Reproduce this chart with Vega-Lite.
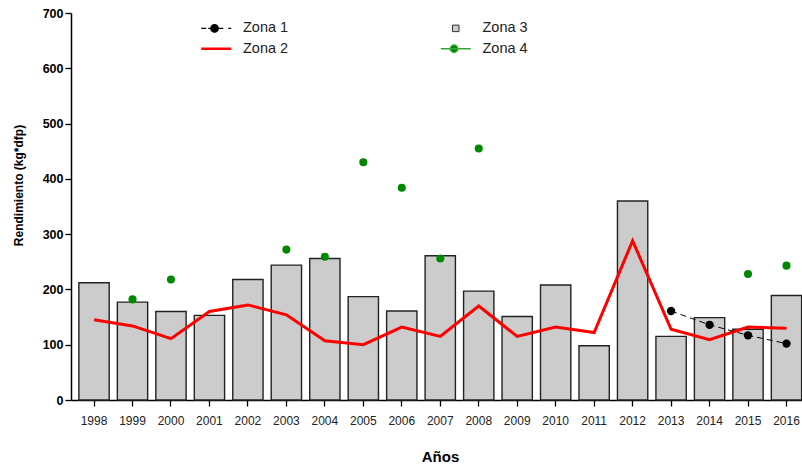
{
  "$schema": "https://vega.github.io/schema/vega-lite/v6.json",
  "width": 731,
  "height": 387,
  "autosize": {"type": "none"},
  "padding": {"left": 71, "top": 13, "right": 0, "bottom": 69},
  "background": "white",
  "config": {"view": {"stroke": null}, "font": "Liberation Sans"},
  "data": {
    "values": [
      {"year": "1998", "zone": "Zona 3", "value": 212},
      {"year": "1999", "zone": "Zona 3", "value": 177},
      {"year": "2000", "zone": "Zona 3", "value": 160},
      {"year": "2001", "zone": "Zona 3", "value": 153},
      {"year": "2002", "zone": "Zona 3", "value": 218},
      {"year": "2003", "zone": "Zona 3", "value": 244},
      {"year": "2004", "zone": "Zona 3", "value": 256},
      {"year": "2005", "zone": "Zona 3", "value": 187},
      {"year": "2006", "zone": "Zona 3", "value": 161},
      {"year": "2007", "zone": "Zona 3", "value": 261},
      {"year": "2008", "zone": "Zona 3", "value": 197},
      {"year": "2009", "zone": "Zona 3", "value": 151},
      {"year": "2010", "zone": "Zona 3", "value": 208},
      {"year": "2011", "zone": "Zona 3", "value": 98},
      {"year": "2012", "zone": "Zona 3", "value": 360},
      {"year": "2013", "zone": "Zona 3", "value": 115},
      {"year": "2014", "zone": "Zona 3", "value": 149},
      {"year": "2015", "zone": "Zona 3", "value": 128},
      {"year": "2016", "zone": "Zona 3", "value": 189},
      {"year": "1998", "zone": "Zona 2", "value": 145},
      {"year": "1999", "zone": "Zona 2", "value": 134},
      {"year": "2000", "zone": "Zona 2", "value": 111},
      {"year": "2001", "zone": "Zona 2", "value": 160},
      {"year": "2002", "zone": "Zona 2", "value": 172},
      {"year": "2003", "zone": "Zona 2", "value": 154},
      {"year": "2004", "zone": "Zona 2", "value": 107},
      {"year": "2005", "zone": "Zona 2", "value": 100},
      {"year": "2006", "zone": "Zona 2", "value": 132},
      {"year": "2007", "zone": "Zona 2", "value": 115},
      {"year": "2008", "zone": "Zona 2", "value": 170},
      {"year": "2009", "zone": "Zona 2", "value": 115},
      {"year": "2010", "zone": "Zona 2", "value": 132},
      {"year": "2011", "zone": "Zona 2", "value": 122},
      {"year": "2012", "zone": "Zona 2", "value": 288},
      {"year": "2013", "zone": "Zona 2", "value": 128},
      {"year": "2014", "zone": "Zona 2", "value": 109},
      {"year": "2015", "zone": "Zona 2", "value": 132},
      {"year": "2016", "zone": "Zona 2", "value": 130},
      {"year": "2013", "zone": "Zona 1", "value": 161},
      {"year": "2014", "zone": "Zona 1", "value": 136},
      {"year": "2015", "zone": "Zona 1", "value": 117},
      {"year": "2016", "zone": "Zona 1", "value": 102},
      {"year": "1999", "zone": "Zona 4", "value": 182},
      {"year": "2000", "zone": "Zona 4", "value": 218},
      {"year": "2003", "zone": "Zona 4", "value": 272},
      {"year": "2004", "zone": "Zona 4", "value": 259},
      {"year": "2005", "zone": "Zona 4", "value": 430},
      {"year": "2006", "zone": "Zona 4", "value": 384},
      {"year": "2007", "zone": "Zona 4", "value": 256},
      {"year": "2008", "zone": "Zona 4", "value": 455},
      {"year": "2015", "zone": "Zona 4", "value": 228},
      {"year": "2016", "zone": "Zona 4", "value": 243}
    ]
  },
  "encoding": {
    "x": {
      "field": "year",
      "type": "ordinal",
      "scale": {"paddingInner": 0.212, "paddingOuter": 0.107, "align": 0.957},
      "axis": {
        "title": "Años",
        "labelAngle": 0,
        "labelFont": "Liberation Sans",
        "labelFontSize": 12,
        "labelColor": "#222222",
        "labelPadding": 9,
        "domainColor": "black",
        "domainWidth": 1.5,
        "tickColor": "black",
        "tickWidth": 1.3,
        "tickSize": 6,
        "titleFont": "Liberation Sans",
        "titleFontSize": 15,
        "titleFontWeight": "bold",
        "titleColor": "black",
        "titlePadding": 23,
        "titleX": 369
      }
    },
    "y": {
      "field": "value",
      "type": "quantitative",
      "scale": {"domain": [0, 700], "nice": false},
      "axis": {
        "title": "Rendimiento (kg*dfp)",
        "values": [0, 100, 200, 300, 400, 500, 600, 700],
        "grid": false,
        "labelFont": "Liberation Sans",
        "labelFontSize": 12.5,
        "labelFontWeight": "bold",
        "labelColor": "black",
        "labelPadding": 2,
        "domainColor": "black",
        "domainWidth": 1.5,
        "tickColor": "black",
        "tickWidth": 1.3,
        "tickSize": 6,
        "titleFont": "Liberation Sans",
        "titleFontSize": 12,
        "titleFontWeight": "bold",
        "titleColor": "black",
        "titleX": -53,
        "titleY": 172,
        "titleAlign": "center",
        "titleBaseline": "middle"
      }
    }
  },
  "layer": [
    {
      "transform": [{"filter": "datum.zone === 'Zona 3'"}],
      "mark": {"type": "bar", "fill": "#cccccc", "stroke": "#222222", "strokeWidth": 1.4}
    },
    {
      "transform": [{"filter": "datum.zone === 'Zona 2'"}],
      "mark": {"type": "line", "color": "#ff0000", "strokeWidth": 3}
    },
    {
      "transform": [{"filter": "datum.zone === 'Zona 1'"}],
      "mark": {"type": "line", "color": "black", "strokeWidth": 1, "strokeDash": [6, 4]}
    },
    {
      "transform": [{"filter": "datum.zone === 'Zona 1'"}],
      "mark": {"type": "point", "filled": true, "color": "black", "opacity": 1, "size": 70}
    },
    {
      "transform": [{"filter": "datum.zone === 'Zona 4'"}],
      "mark": {"type": "point", "filled": true, "color": "#008800", "opacity": 1, "size": 65}
    },
    {
      "mark": {"type": "point", "filled": true, "opacity": 0},
      "encoding": {
        "color": {
          "field": "zone",
          "type": "nominal",
          "scale": {
            "domain": ["Zona 1", "Zona 2", "Zona 3", "Zona 4"],
            "range": ["black", "#ff0000", "#cccccc", "#008800"]
          },
          "legend": {
            "title": null,
            "orient": "none",
            "legendX": 138,
            "legendY": 8,
            "columns": 2,
            "padding": 0,
            "symbolSize": 100,
            "symbolStrokeWidth": 1.5,
            "labelFont": "Liberation Sans",
            "labelFontSize": 14.5,
            "labelColor": "#222222",
            "labelOffset": 19.5,
            "rowPadding": 5.5,
            "columnPadding": 148.5,
            "encode": {
              "symbols": {
                "update": {
                  "opacity": {"value": 1},
                  "fillOpacity": {"value": 1},
                  "strokeOpacity": {"value": 1},
                  "size": {"value": 100},
                  "shape": {"signal": "datum.value === 'Zona 1' ? 'M-3,0H-2M-1.6,0H-1.09M0.41,0H1.4M2.4,0H3M-1.09,0A0.75,0.75 0 1,1 0.41,0A0.75,0.75 0 1,1 -1.09,0Z' : datum.value === 'Zona 2' ? 'M-3,0H3' : datum.value === 'Zona 3' ? 'M-0.65,-0.65H0.65V0.65H-0.65Z' : 'M-3,0H3M-1.09,0A0.75,0.75 0 1,1 0.41,0A0.75,0.75 0 1,1 -1.09,0Z'"},
                  "fill": {"signal": "datum.value === 'Zona 1' ? 'black' : datum.value === 'Zona 2' ? 'transparent' : datum.value === 'Zona 3' ? '#cccccc' : '#008800'"},
                  "stroke": {"signal": "datum.value === 'Zona 1' ? 'black' : datum.value === 'Zona 2' ? '#ff0000' : datum.value === 'Zona 3' ? '#333333' : '#3aa53a'"},
                  "strokeWidth": {"signal": "datum.value === 'Zona 2' ? 2.5 : datum.value === 'Zona 3' ? 1 : 1.3"}
                }
              }
            }
          }
        }
      }
    }
  ]
}
